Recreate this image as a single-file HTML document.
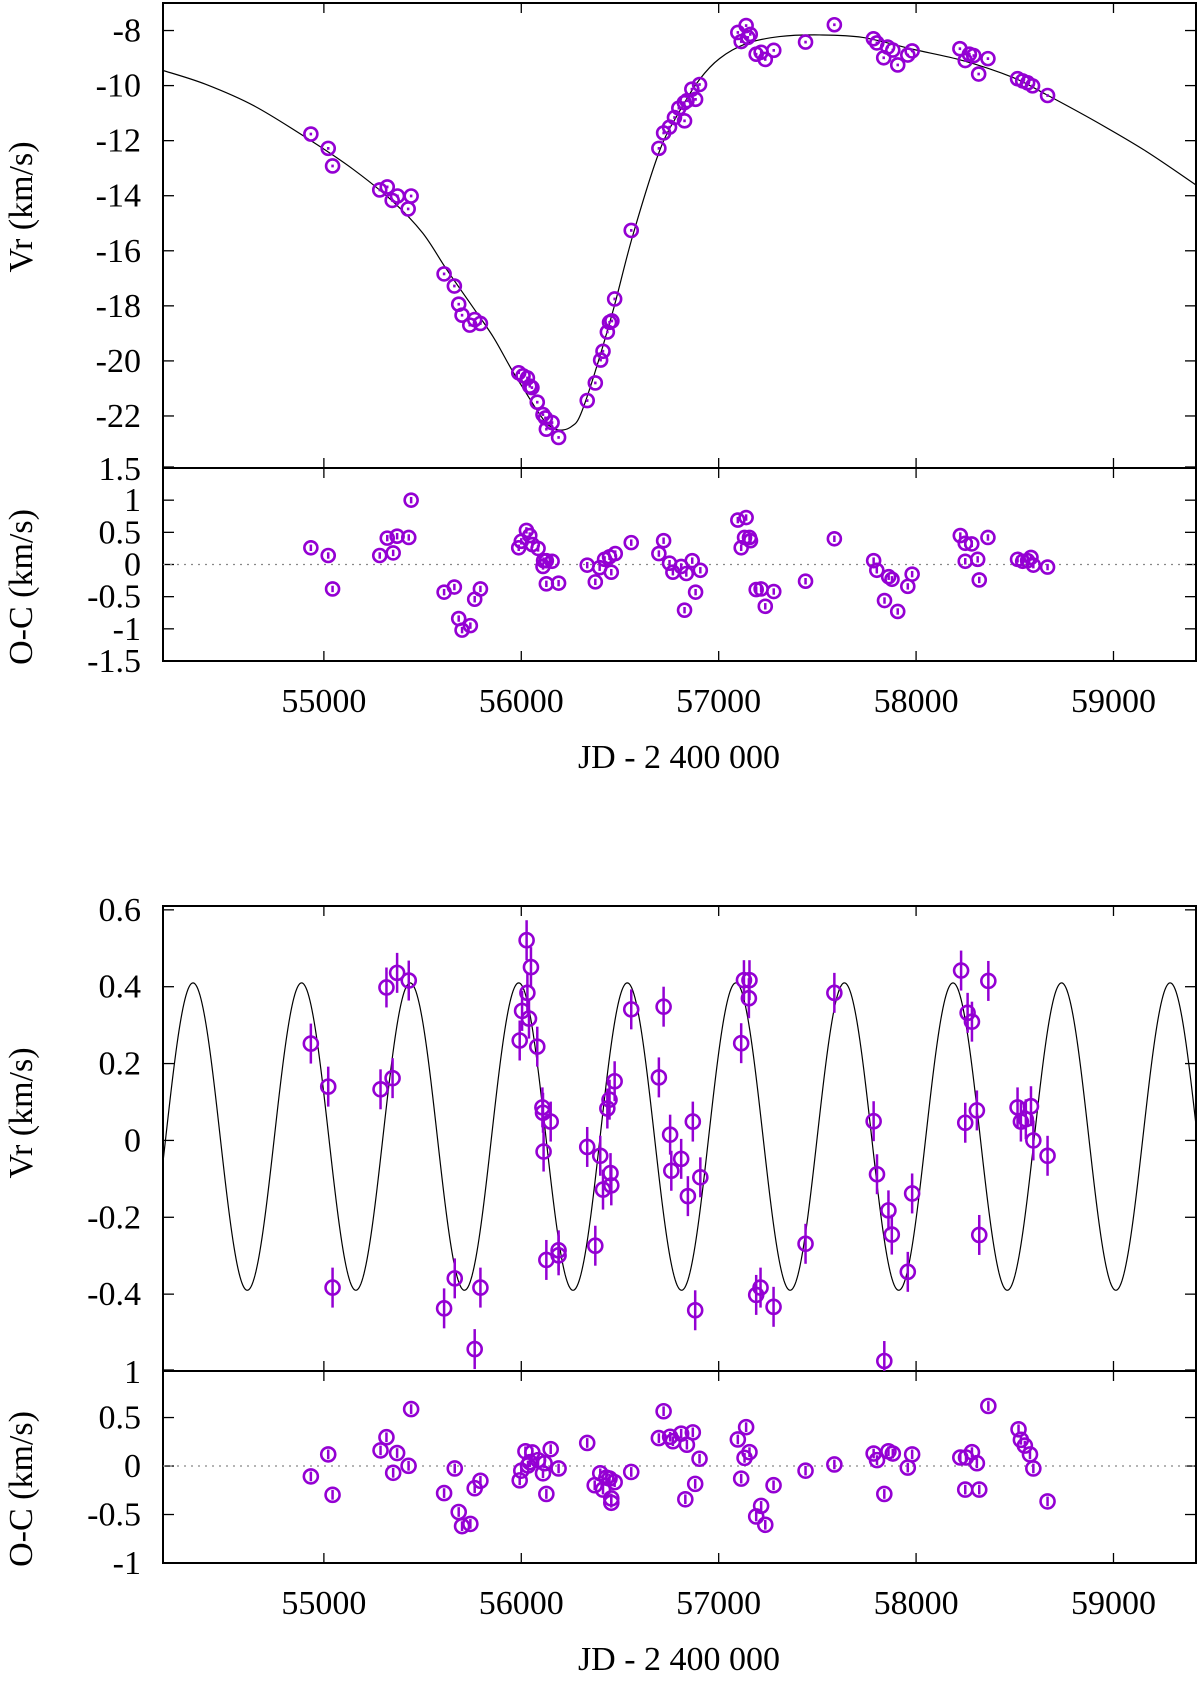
<!DOCTYPE html>
<html><head><meta charset="utf-8"><title>Radial velocity orbit fit and O-C residuals</title>
<style>
html,body{margin:0;padding:0;background:#fff;}
svg{display:block;font-family:"Liberation Serif",serif;}
</style></head>
<body>
<svg id="chart" xmlns="http://www.w3.org/2000/svg" width="1200" height="1681" viewBox="0 0 1200 1681"></svg>
<script>
// ---------- DATA ----------
const orbitJD = [54934,55022,55044,55283,55321,55346,55373,55427,55442,55609,55661,55683,55700,55739,55764,55793,55987,56009,56031,56043,56054,56081,56110,56122,56156,56127,56189,56334,56375,56402,56414,56436,56447,56459,56473,56557,56697,56721,56751,56776,56798,56827,56826,56839,56864,56883,56903,57097,57139,57114,57160,57148,57190,57215,57236,57279,57440,57586,57784,57801,57836,57856,57882,57907,57958,57980,58222,58249,58270,58292,58317,58364,58514,58540,58565,58590,58666];
const orbitVr = [-11.76,-12.28,-12.92,-13.79,-13.68,-14.17,-14.01,-14.48,-14.01,-16.84,-17.28,-17.94,-18.34,-18.70,-18.50,-18.64,-20.43,-20.54,-20.62,-20.92,-20.97,-21.50,-21.95,-22.07,-22.24,-22.48,-22.78,-21.44,-20.80,-19.97,-19.65,-18.95,-18.60,-18.55,-17.75,-15.26,-12.28,-11.72,-11.51,-11.16,-10.82,-11.28,-10.62,-10.55,-10.13,-10.50,-9.96,-8.07,-7.82,-8.40,-8.14,-8.25,-8.86,-8.79,-9.05,-8.72,-8.42,-7.79,-8.30,-8.45,-8.99,-8.60,-8.71,-9.25,-8.89,-8.74,-8.66,-9.09,-8.86,-8.91,-9.58,-9.02,-9.75,-9.83,-9.90,-10.01,-10.36];
const orbitModelJD = [54185,54400,54650,54934,55150,55351,55500,55621,55750,55857,55950,56026,56080,56127,56170,56211,56255,56296,56363,56464,56565,56700,56802,56903,57004,57139,57308,57511,57730,57983,58236,58489,58658,58911,59164,59418];
const orbitModelVr = [-9.45,-9.95,-10.75,-12.0,-13.05,-14.22,-15.35,-16.67,-18.0,-19.12,-20.3,-21.18,-21.8,-22.26,-22.47,-22.51,-22.38,-22.02,-20.65,-18.2,-15.44,-12.38,-10.93,-9.78,-9.02,-8.48,-8.22,-8.16,-8.25,-8.68,-9.09,-9.70,-10.32,-11.31,-12.38,-13.61];
const oc1JD = [54934,55022,55044,55283,55321,55351,55371,55430,55442,55609,55661,55683,55700,55742,55764,55793,55987,56000,56026,56043,56056,56085,56113,56110,56127,56156,56127,56189,56334,56375,56397,56422,56447,56456,56476,56557,56697,56721,56751,56768,56827,56810,56836,56866,56883,56907,57097,57139,57114,57131,57156,57161,57190,57215,57236,57279,57440,57586,57785,57801,57840,57861,57878,57907,57958,57980,58224,58249,58282,58249,58312,58320,58364,58514,58540,58565,58582,58594,58666];
const oc1Val = [0.26,0.14,-0.38,0.14,0.41,0.18,0.44,0.42,1.00,-0.43,-0.35,-0.84,-1.02,-0.95,-0.54,-0.38,0.26,0.36,0.53,0.45,0.31,0.25,0.06,-0.03,0.06,0.05,-0.30,-0.29,-0.01,-0.27,-0.05,0.08,0.12,-0.12,0.17,0.34,0.17,0.37,0.02,-0.12,-0.71,-0.03,-0.14,0.06,-0.43,-0.09,0.69,0.73,0.26,0.42,0.42,0.37,-0.39,-0.38,-0.65,-0.42,-0.26,0.40,0.06,-0.09,-0.56,-0.19,-0.23,-0.73,-0.34,-0.15,0.45,0.33,0.32,0.05,0.08,-0.24,0.42,0.08,0.05,0.06,0.11,-0.01,-0.04];
const resJD = [54934,55022,55044,55287,55317,55348,55371,55430,55609,55663,55764,55793,55992,56004,56027,56031,56049,56039,56081,56107,56110,56113,56149,56127,56189,56189,56334,56375,56400,56414,56436,56447,56452,56456,56473,56557,56697,56721,56754,56760,56810,56844,56869,56881,56907,57114,57128,57156,57153,57190,57212,57278,57440,57586,57785,57802,57839,57860,57877,57958,57980,58228,58249,58261,58283,58308,58320,58366,58514,58531,58556,58582,58594,58666];
const resVr = [0.252,0.140,-0.383,0.133,0.398,0.162,0.436,0.416,-0.437,-0.359,-0.543,-0.383,0.260,0.337,0.521,0.384,0.451,0.317,0.244,0.086,0.072,-0.029,0.049,-0.311,-0.286,-0.299,-0.017,-0.274,-0.040,-0.128,0.083,0.106,-0.085,-0.117,0.154,0.341,0.164,0.348,0.015,-0.079,-0.048,-0.145,0.049,-0.442,-0.096,0.253,0.417,0.417,0.370,-0.402,-0.383,-0.433,-0.269,0.384,0.050,-0.088,-0.574,-0.182,-0.245,-0.342,-0.138,0.442,0.046,0.332,0.309,0.078,-0.246,0.415,0.086,0.049,0.055,0.089,0.000,-0.040];
const resErr = 0.052;
const sinPeriod = 550, sinT0 = 54337, sinAmp = 0.40, sinOffset = 0.01;
const oc2JD = [54934,55022,55044,55287,55317,55351,55371,55429,55442,55609,55663,55683,55700,55742,55764,55793,55992,56000,56021,56034,56043,56056,56085,56110,56118,56149,56127,56189,56334,56372,56400,56414,56431,56447,56456,56456,56473,56557,56697,56721,56754,56768,56810,56839,56869,56881,56903,56831,57097,57139,57114,57131,57156,57190,57215,57236,57278,57440,57586,57785,57802,57839,57860,57882,57958,57980,58224,58253,58283,58308,58249,58320,58366,58519,58531,58551,58577,58594,58666];
const oc2Val = [-0.107,0.120,-0.297,0.161,0.297,-0.070,0.134,0.002,0.587,-0.279,-0.025,-0.474,-0.620,-0.597,-0.229,-0.152,-0.148,-0.048,0.152,0.006,0.040,0.140,0.061,-0.075,0.029,0.174,-0.288,-0.025,0.238,-0.198,-0.075,-0.243,-0.120,-0.129,-0.334,-0.379,-0.166,-0.061,0.288,0.565,0.302,0.256,0.334,0.220,0.347,-0.184,0.075,-0.343,0.274,0.401,-0.130,0.084,0.143,-0.520,-0.411,-0.606,-0.198,-0.048,0.016,0.129,0.061,-0.288,0.152,0.129,-0.016,0.120,0.088,0.088,0.143,0.029,-0.243,-0.243,0.619,0.379,0.270,0.211,0.120,-0.025,-0.365];
const xTicks = [55000,56000,57000,58000,59000];
const yTicks1 = [-8,-10,-12,-14,-16,-18,-20,-22];
const yTicks2 = [1,0.5,0,-0.5,-1,-1.5];
const yTicks3 = [0.6,0.4,0.2,0,-0.2,-0.4];
const yTicks4 = [0.5,0,-0.5,-1];

// ---------- DRAWING ----------
const NS = 'http://www.w3.org/2000/svg';
const svg = document.getElementById('chart');
const PURPLE = '#9400d3';
const FS = 34;
const L = 163, R = 1196;
const xMin = 54185, xMax = 59418;
function xs(v){ return L + (v - xMin) / (xMax - xMin) * (R - L); }
function mk(tag, attrs, parent){
  const e = document.createElementNS(NS, tag);
  for (const k in attrs) e.setAttribute(k, attrs[k]);
  (parent || svg).appendChild(e);
  return e;
}
function makeY(top, bottom, vTop, vBottom){
  return v => top + (vTop - v) / (vTop - vBottom) * (bottom - top);
}
const P1 = {top:3, bottom:468, vTop:-7.0, vBottom:-23.89};
const P2 = {top:468, bottom:661, vTop:1.5, vBottom:-1.5};
const P3 = {top:906, bottom:1371, vTop:0.61, vBottom:-0.6};
const P4 = {top:1371, bottom:1563, vTop:0.98, vBottom:-1};
[P1,P2,P3,P4].forEach((p,i)=>{
  p.y = makeY(p.top,p.bottom,p.vTop,p.vBottom);
  const cp = mk('clipPath',{id:'clip'+i});
  mk('rect',{x:L,y:p.top,width:R-L,height:p.bottom-p.top},cp);
});

function ticksAndFrame(p, yTicks, name){
  const g = mk('g',{});
  
  
  mk('rect',{x:L,y:p.top,width:R-L,height:p.bottom-p.top,fill:'none',stroke:'#000','stroke-width':2},g);
  xTicks.forEach(t=>{
    const x = xs(t);
    mk('line',{x1:x,y1:p.top,x2:x,y2:p.top+10,stroke:'#000','stroke-width':1.3},g);
    mk('line',{x1:x,y1:p.bottom,x2:x,y2:p.bottom-10,stroke:'#000','stroke-width':1.3},g);
  });
  yTicks.forEach(t=>{
    const y = p.y(t);
    mk('line',{x1:L,y1:y,x2:L+11,y2:y,stroke:'#000','stroke-width':1.3},g);
    mk('line',{x1:R,y1:y,x2:R-11,y2:y,stroke:'#000','stroke-width':1.3},g);
    const tx = mk('text',{x:141,y:y+11,'text-anchor':'end','font-size':FS,fill:'#000'},g);
    tx.textContent = String(t);
    
    
  });
  return g;
}
ticksAndFrame(P1, yTicks1, 'orbit-panel');
ticksAndFrame(P2, yTicks2, 'orbit-oc-panel');
ticksAndFrame(P3, yTicks3, 'residual-panel');
ticksAndFrame(P4, yTicks4, 'residual-oc-panel');
{
  const t1 = mk('text',{x:141,y:P2.top+12,'text-anchor':'end','font-size':FS});
  t1.textContent = '1.5';
  
  
  mk('line',{x1:L,y1:P2.top-1,x2:L+11,y2:P2.top-1,stroke:'#000','stroke-width':1.3});
  mk('line',{x1:R,y1:P2.top-1,x2:R-11,y2:P2.top-1,stroke:'#000','stroke-width':1.3});
  const t2 = mk('text',{x:141,y:P4.top+12,'text-anchor':'end','font-size':FS});
  t2.textContent = '1';
  
  
  mk('line',{x1:L,y1:P4.top-1,x2:L+11,y2:P4.top-1,stroke:'#000','stroke-width':1.3});
  mk('line',{x1:R,y1:P4.top-1,x2:R-11,y2:P4.top-1,stroke:'#000','stroke-width':1.3});
}
function xLabels(yBase, name){
  xTicks.forEach(t=>{
    const tx = mk('text',{x:xs(t),y:yBase,'text-anchor':'middle','font-size':FS});
    tx.textContent = String(t);
    
    
  });
}
xLabels(712,'top-x-tick-label');
xLabels(1614,'bottom-x-tick-label');
function addText(txt,x,y,name,rot){
  const t = mk('text',{x:x,y:y,'text-anchor':'middle','font-size':FS});
  if (rot) t.setAttribute('transform','rotate(-90 '+x+' '+y+')');
  t.textContent = txt;
  
  
}
addText('JD - 2 400 000',679,768,'top-x-axis-title');
addText('JD - 2 400 000',679,1670,'bottom-x-axis-title');
addText('Vr (km/s)',32,207,'orbit-y-axis-title',true);
addText('O-C (km/s)',32,587,'orbit-oc-y-axis-title',true);
addText('Vr (km/s)',32,1113,'residual-y-axis-title',true);
addText('O-C (km/s)',32,1489,'residual-oc-y-axis-title',true);

[P2,P4].forEach((p,i)=>{
  const ln = mk('line',{x1:L,x2:R,y1:p.y(0),y2:p.y(0),stroke:'#888','stroke-width':1.2,'stroke-dasharray':'2 5'});
  
  
});

{
  const pts = orbitModelJD.map((j,i)=>[xs(j), P1.y(orbitModelVr[i])]);
  let d = 'M'+pts[0][0]+','+pts[0][1];
  for (let i=0;i<pts.length-1;i++){
    const p0 = pts[Math.max(i-1,0)], p1 = pts[i], p2 = pts[i+1], p3 = pts[Math.min(i+2,pts.length-1)];
    const c1 = [p1[0]+(p2[0]-p0[0])/6, p1[1]+(p2[1]-p0[1])/6];
    const c2 = [p2[0]-(p3[0]-p1[0])/6, p2[1]-(p3[1]-p1[1])/6];
    d += ' C'+c1[0]+','+c1[1]+' '+c2[0]+','+c2[1]+' '+p2[0]+','+p2[1];
  }
  const path = mk('path',{d:d,fill:'none',stroke:'#000','stroke-width':1.2,'clip-path':'url(#clip0)'});
  
  
}
{
  let d = '';
  for (let px=L; px<=R; px+=1){
    const jd = xMin + (px-L)/(R-L)*(xMax-xMin);
    const v = sinOffset + sinAmp*Math.cos(2*Math.PI*(jd - sinT0)/sinPeriod);
    d += (d ? ' L' : 'M') + px + ',' + P3.y(v).toFixed(2);
  }
  const path = mk('path',{d:d,fill:'none',stroke:'#000','stroke-width':1.2,'clip-path':'url(#clip2)'});
  
  
}
function drawPoints(jds, vals, p, clipIdx, err, r, name){
  const g = mk('g',{'clip-path':'url(#clip'+clipIdx+')'});
  
  
  jds.forEach((j,i)=>{
    const x = xs(j), y = p.y(vals[i]);
    const y1 = p.y(vals[i]+err), y2 = p.y(vals[i]-err);
    const pt = mk('g',{},g);
    
    
    mk('line',{x1:x,x2:x,y1:y1,y2:y2,stroke:PURPLE,'stroke-width':2.5},pt);
    mk('circle',{cx:x,cy:y,r:r,fill:'none',stroke:PURPLE,'stroke-width':2.6},pt);
  });
}
drawPoints(orbitJD, orbitVr, P1, 0, 0.05, 6.5, 'orbit-vr');
drawPoints(oc1JD, oc1Val, P2, 1, 0.05, 6.5, 'orbit-oc');
drawPoints(resJD, resVr, P3, 2, resErr, 7, 'residual-vr');
drawPoints(oc2JD, oc2Val, P4, 3, 0.05, 7, 'residual-oc');
</script>
</body></html>
